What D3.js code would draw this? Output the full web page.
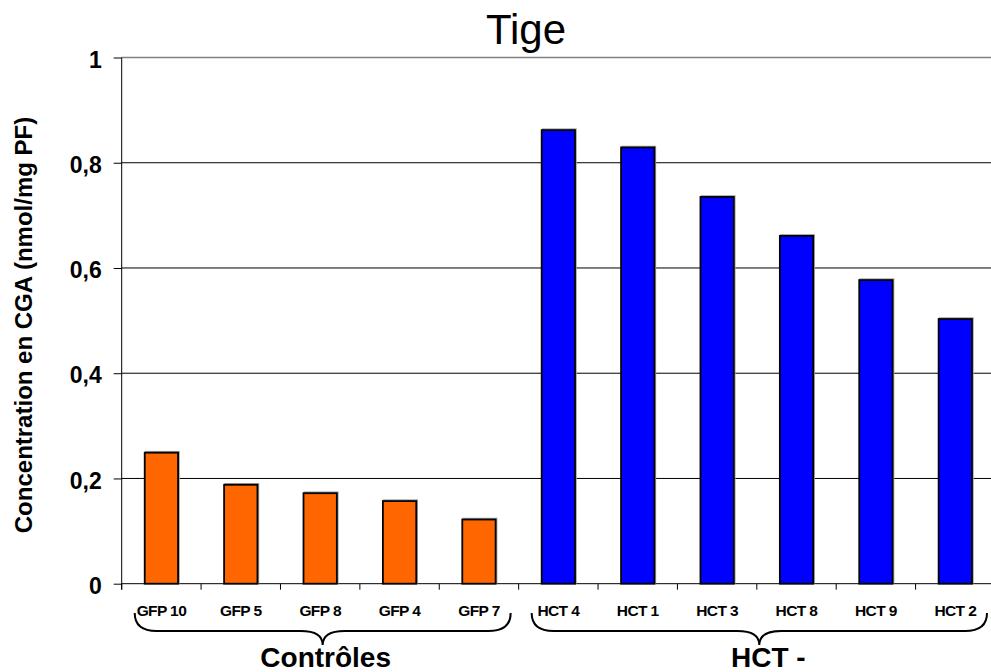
<!DOCTYPE html>
<html>
<head>
<meta charset="utf-8">
<script src="https://cdn.jsdelivr.net/npm/d3@7"></script>
<style>
  body { margin: 0; background: #fff; }
  svg { display: block; font-family: Arial, 'Liberation Sans', sans-serif; }
</style>
</head>
<body>
<div id="chart"></div>
<script>
// data
const categories = ['GFP 10', 'GFP 5', 'GFP 8', 'GFP 4', 'GFP 7',
                    'HCT 4', 'HCT 1', 'HCT 3', 'HCT 8', 'HCT 9', 'HCT 2']
const values = [0.249, 0.188, 0.172, 0.157, 0.122,
                0.862, 0.829, 0.735, 0.661, 0.577, 0.503]
const groupOf = ['ctrl', 'ctrl', 'ctrl', 'ctrl', 'ctrl',
                 'hct', 'hct', 'hct', 'hct', 'hct', 'hct']
const groups = ['ctrl', 'hct']
const groupLabels = ['Contrôles', 'HCT -']
const yTicks = [0, 0.2, 0.4, 0.6, 0.8, 1]

const colors = { ctrl: '#ff6600', hct: '#0000ff' }

const width = 991
const height = 672
const plotLeft = 121.7
const plotRight = 995
const plotTop = 57.5
const plotBottom = 583.7
const pad = 0.58

const svg = d3.select('#chart')
  .append('svg')
  .attr('width', width)
  .attr('height', height)

// scales
const xs = d3.scaleBand()
  .domain(categories)
  .range([plotLeft, plotRight])
  .paddingInner(pad)
  .paddingOuter(pad / 2)
const step = xs.step()
const ys = d3.scaleLinear()
  .domain([0, 1])
  .range([plotBottom, plotTop])

// title
svg.append('text')
  .attr('x', 526)
  .attr('y', 44)
  .attr('text-anchor', 'middle')
  .style('font-size', '42px')
  .text('Tige')

// gridlines
svg.append('g')
  .selectAll('line')
  .data(yTicks.filter(d => d > 0))
  .join('line')
  .attr('x1', plotLeft)
  .attr('x2', width)
  .attr('y1', d => ys(d))
  .attr('y2', d => ys(d))
  .attr('stroke', d => d === 1 ? '#808080' : '#000')
  .attr('stroke-width', d => d === 1 ? 1.5 : 1)

// y axis
const yAxis = svg.append('g')
  .attr('transform', `translate(${plotLeft},0)`)
  .call(d3.axisLeft(ys)
    .tickValues(yTicks)
    .tickSize(8)
    .tickPadding(12)
    .tickFormat(d => d3.format('.1~f')(d).replace('.', ',')))
yAxis.select('.domain')
  .attr('d', `M0,${plotTop}V${plotBottom + 6}`)
  .attr('stroke', '#000')
yAxis.selectAll('.tick line').attr('stroke', '#000')
yAxis.selectAll('.tick text')
  .attr('dy', '0.42em')
  .style('font-size', '23px')
  .style('font-weight', 'bold')
  .style('font-family', 'Arial, "Liberation Sans", sans-serif')
  .attr('fill', '#000')

// y title
svg.append('text')
  .attr('transform', 'translate(32,325) rotate(-90)')
  .attr('text-anchor', 'middle')
  .style('font-size', '24px')
  .style('font-weight', 'bold')
  .text('Concentration en CGA (nmol/mg PF)')

// x axis line and boundary ticks
svg.append('line')
  .attr('x1', plotLeft)
  .attr('x2', width)
  .attr('y1', plotBottom)
  .attr('y2', plotBottom)
  .attr('stroke', '#000')
svg.append('g')
  .selectAll('line')
  .data(categories)
  .join('line')
  .attr('x1', d => xs(d) - step * pad / 2)
  .attr('x2', d => xs(d) - step * pad / 2)
  .attr('y1', plotBottom)
  .attr('y2', plotBottom + 6)
  .attr('stroke', '#000')

// bars
const bars = svg.append('g')
const barData = categories.map((c, i) => ({ c: c, v: values[i], g: groupOf[i] }))
bars.selectAll('rect.shadow')
  .data(barData)
  .join('rect')
  .classed('shadow', true)
  .attr('x', d => xs(d.c) + 1)
  .attr('y', d => ys(d.v) - 1)
  .attr('width', xs.bandwidth())
  .attr('height', d => plotBottom - ys(d.v))
  .attr('fill', 'none')
  .attr('stroke', '#a0a0a0')
  .attr('stroke-width', 1.5)
bars.selectAll('rect.bar')
  .data(barData)
  .join('rect')
  .classed('bar', true)
  .attr('x', d => xs(d.c))
  .attr('y', d => ys(d.v))
  .attr('width', xs.bandwidth())
  .attr('height', d => plotBottom - ys(d.v))
  .attr('fill', d => colors[d.g])
  .attr('stroke', '#000')
  .attr('stroke-width', 1.8)

// category labels
svg.append('g')
  .selectAll('text')
  .data(categories)
  .join('text')
  .attr('x', d => xs(d) + xs.bandwidth() / 2)
  .attr('y', 616)
  .attr('text-anchor', 'middle')
  .style('font-size', '15.5px')
  .style('font-weight', 'bold')
  .style('letter-spacing', '-0.6px')
  .text(d => d)

// group braces
function bracePath (x1, x2, y0, y1, y2) {
  const xm = (x1 + x2) / 2
  const r = 22
  return `M${x1},${y0} Q${x1},${y1} ${x1 + r},${y1} L${xm - r},${y1}` +
    ` Q${xm},${y1} ${xm},${y2} Q${xm},${y1} ${xm + r},${y1}` +
    ` L${x2 - r},${y1} Q${x2},${y1} ${x2},${y0}`
}

groups.forEach((g, gi) => {
  const members = categories.filter((c, i) => groupOf[i] === g)
  const x1 = xs(members[0]) - step * pad / 2 + 13
  const x2 = xs(members[members.length - 1]) + xs.bandwidth() + step * pad / 2 - 8
  const xm = (x1 + x2) / 2
  svg.append('path')
    .attr('d', bracePath(x1, x2, 613, 631, 645))
    .attr('fill', 'none')
    .attr('stroke', '#000')
    .attr('stroke-width', 2)
  svg.append('text')
    .attr('x', xm + (gi === 0 ? 3 : 9))
    .attr('y', 667)
    .attr('text-anchor', 'middle')
    .style('font-size', '28px')
    .style('font-weight', 'bold')
    .text(groupLabels[gi])
})
</script>
</body>
</html>
